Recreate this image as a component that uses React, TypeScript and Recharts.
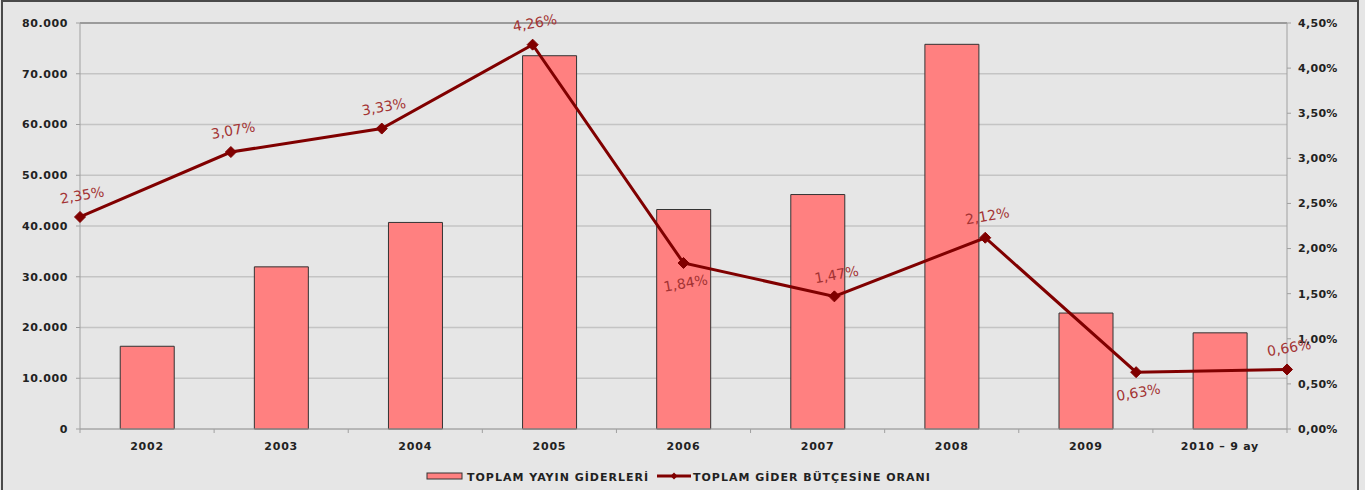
import React from 'react'
import {
	ComposedChart,
	Bar,
	Line,
	XAxis,
	YAxis,
	CartesianGrid,
	Legend,
	ReferenceLine,
} from 'recharts'

const years = ['2002', '2003', '2004', '2005', '2006', '2007', '2008', '2009', '2010 – 9 ay']
const yayinGiderleri = [16300, 31950, 40700, 73550, 43250, 46200, 75800, 22850, 18950]
const butceOrani = [2.35, 3.07, 3.33, 4.26, 1.84, 1.47, 2.12, 0.63, 0.66]
const leftTicks = [0, 10000, 20000, 30000, 40000, 50000, 60000, 70000, 80000]
const rightTicks = [0, 0.5, 1, 1.5, 2, 2.5, 3, 3.5, 4, 4.5]
// labels drawn under the marker instead of above
const labelsBelow = ['2006', '2009']

const data = years.map((year, i) => ({
	year,
	giderler: yayinGiderleri[i],
	oran: butceOrani[i],
}))

const WIDTH = 1365
const HEIGHT = 490
const LEFT_AXIS = 80
const RIGHT_AXIS = 78
const BAND = (WIDTH - LEFT_AXIS - RIGHT_AXIS) / years.length

const DARK_RED = '#800000'
const AXIS_FONT = 'DejaVu Sans, Verdana, sans-serif'

const thousands = (v: number) => String(v).replace(/\B(?=(\d{3})+(?!\d))/g, '.')
const percent = (v: number) => v.toFixed(2).replace('.', ',') + '%'

function YearTick({ x, y, payload, index }: any) {
	return (
		<g>
			<line x1={x - BAND / 2} x2={x - BAND / 2} y1={y} y2={y + 4} stroke="#a0a0a0" />
			{index === years.length - 1 && (
				<line x1={x + BAND / 2} x2={x + BAND / 2} y1={y} y2={y + 4} stroke="#a0a0a0" />
			)}
			<text
				x={x}
				y={y + 21}
				textAnchor="middle"
				fontFamily={AXIS_FONT}
				fontWeight="bold"
				fontSize={11}
				letterSpacing={0.8}
				fill="#222"
			>
				{payload.value}
			</text>
		</g>
	)
}

function Diamond({ cx, cy }: any) {
	if (cx == null || cy == null) return null
	const r = 5.5
	return (
		<polygon
			points={`${cx},${cy - r} ${cx + r},${cy} ${cx},${cy + r} ${cx - r},${cy}`}
			fill={DARK_RED}
			stroke={DARK_RED}
		/>
	)
}

function OranLabel({ x, y, value, index }: any) {
	const below = labelsBelow.includes(years[index])
	const ly = below ? y + 25 : y - 17
	return (
		<text
			x={x + 3}
			y={ly}
			textAnchor="middle"
			fontFamily={AXIS_FONT}
			fontSize={14}
			fill="#a33333"
			transform={`rotate(-10 ${x + 3} ${ly})`}
		>
			{percent(value)}
		</text>
	)
}

function LegendContent() {
	const text = {
		fontFamily: AXIS_FONT,
		fontWeight: 'bold' as const,
		fontSize: 11,
		letterSpacing: 1,
		fill: '#222',
	}
	return (
		<svg width={WIDTH} height={29} style={{ display: 'block' }}>
			<rect x={427} y={12} width={35} height={6} fill="#ff8080" stroke="#333" />
			<text x={467} y={20} {...text}>
				TOPLAM YAYIN GİDERLERİ
			</text>
			<line x1={657} x2={691} y1={15} y2={15} stroke={DARK_RED} strokeWidth={3} />
			<polygon points="674,11.5 677.5,15 674,18.5 670.5,15" fill={DARK_RED} />
			<text x={693} y={20} {...text}>
				TOPLAM GİDER BÜTÇESİNE ORANI
			</text>
		</svg>
	)
}

export default function App() {
	return (
		<div
			style={{
				position: 'absolute',
				left: 0,
				top: 0,
				width: WIDTH,
				height: HEIGHT,
				background: '#e6e6e6',
				overflow: 'hidden',
			}}
		>
			<ComposedChart
				width={WIDTH}
				height={HEIGHT}
				data={data}
				margin={{ top: 23, right: 0, bottom: 0, left: 0 }}
				barCategoryGap="30%"
			>
				<CartesianGrid yAxisId="left" xAxisId="bar" vertical={false} stroke="#c4c4c4" strokeWidth={1.5} />
				<XAxis
					xAxisId="bar"
					dataKey="year"
					height={32}
					axisLine={{ stroke: '#a0a0a0' }}
					tickLine={false}
					tickSize={0}
					tickMargin={0}
					interval={0}
					tick={<YearTick />}
				/>
				<XAxis
					xAxisId="line"
					dataKey="year"
					scale="point"
					padding={{ left: 0, right: 0 }}
					hide
				/>
				<YAxis
					yAxisId="left"
					width={LEFT_AXIS}
					domain={[0, 80000]}
					ticks={leftTicks}
					tickFormatter={thousands}
					axisLine={{ stroke: '#a0a0a0' }}
					tickLine={{ stroke: '#a0a0a0' }}
					tickSize={4}
					tickMargin={8}
					tick={{ fontFamily: AXIS_FONT, fontWeight: 'bold', fontSize: 11, letterSpacing: 0.6, fill: '#222' }}
				/>
				<YAxis
					yAxisId="right"
					orientation="right"
					width={RIGHT_AXIS}
					domain={[0, 4.5]}
					ticks={rightTicks}
					tickFormatter={percent}
					axisLine={{ stroke: '#a0a0a0' }}
					tickLine={{ stroke: '#a0a0a0' }}
					tickSize={4}
					tickMargin={7}
					tick={{ fontFamily: AXIS_FONT, fontWeight: 'bold', fontSize: 11, letterSpacing: 0.3, fill: '#222' }}
				/>
				<ReferenceLine yAxisId="left" xAxisId="bar" y={80000} stroke="#8a8a8a" strokeWidth={1.5} />
				<Bar
					xAxisId="bar"
					yAxisId="left"
					dataKey="giderler"
					name="TOPLAM YAYIN GİDERLERİ"
					fill="#ff8080"
					stroke="#333"
					strokeWidth={1}
					isAnimationActive={false}
				/>
				<Line
					xAxisId="line"
					yAxisId="right"
					dataKey="oran"
					name="TOPLAM GİDER BÜTÇESİNE ORANI"
					stroke={DARK_RED}
					strokeWidth={3}
					dot={<Diamond />}
					activeDot={false}
					label={<OranLabel />}
					isAnimationActive={false}
				/>
				<Legend verticalAlign="bottom" height={29} content={<LegendContent />} />
			</ComposedChart>
			<div
				style={{
					position: 'absolute',
					left: 1,
					top: 0,
					width: 1358,
					height: HEIGHT + 10,
					border: '2px solid #4a4a4a',
					boxSizing: 'border-box',
					pointerEvents: 'none',
				}}
			/>
		</div>
	)
}
